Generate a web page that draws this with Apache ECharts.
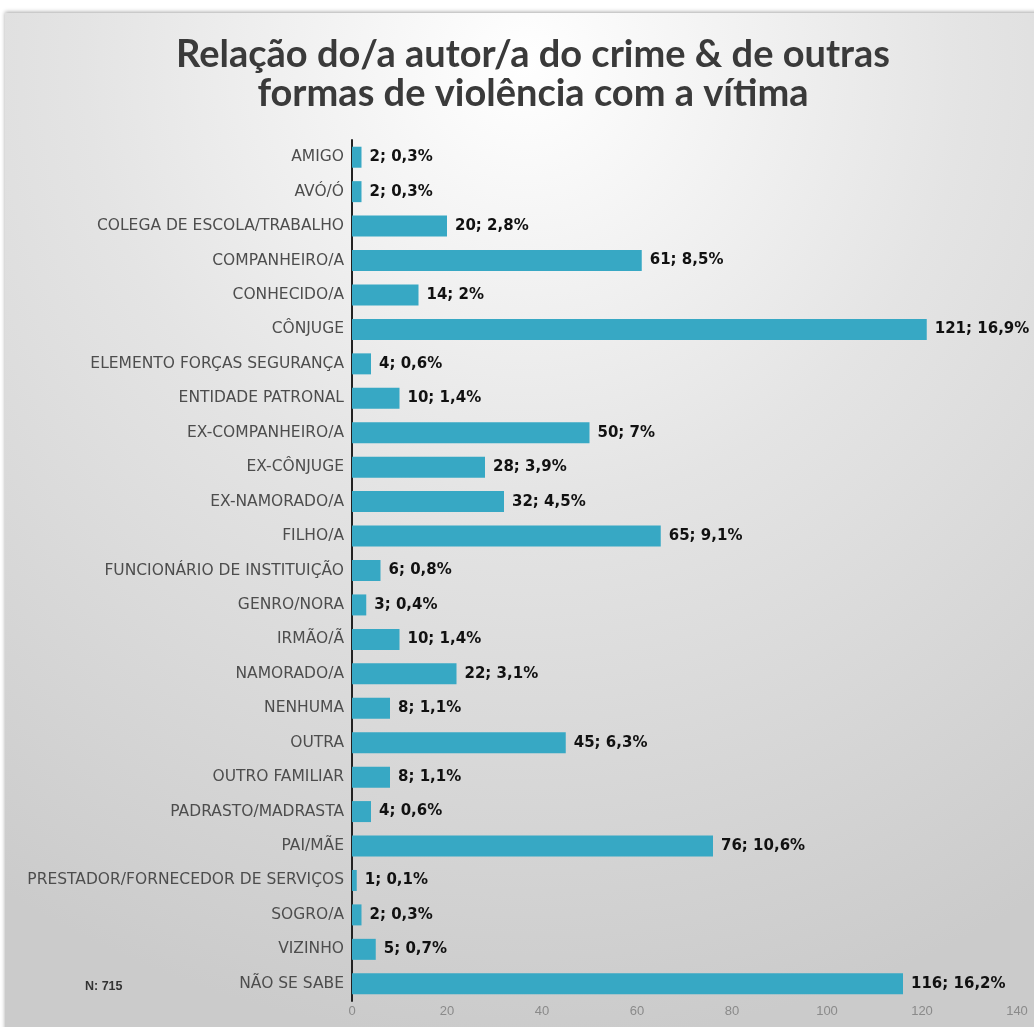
<!DOCTYPE html>
<html><head><meta charset="utf-8">
<script src="https://cdn.jsdelivr.net/npm/echarts@6/dist/echarts.min.js"></script>
<style>html,body{margin:0;padding:0;background:#fff;}#c{width:1034px;height:1027px;}</style>
</head><body><div id="c"></div>
<script>
const categories = ["AMIGO","AVÓ/Ó","COLEGA DE ESCOLA/TRABALHO","COMPANHEIRO/A","CONHECIDO/A","CÔNJUGE","ELEMENTO FORÇAS SEGURANÇA","ENTIDADE PATRONAL","EX-COMPANHEIRO/A","EX-CÔNJUGE","EX-NAMORADO/A","FILHO/A","FUNCIONÁRIO DE INSTITUIÇÃO","GENRO/NORA","IRMÃO/Ã","NAMORADO/A","NENHUMA","OUTRA","OUTRO FAMILIAR","PADRASTO/MADRASTA","PAI/MÃE","PRESTADOR/FORNECEDOR DE SERVIÇOS","SOGRO/A","VIZINHO","NÃO SE SABE"];
const counts = [2,2,20,61,14,121,4,10,50,28,32,65,6,3,10,22,8,45,8,4,76,1,2,5,116];
const percents = ["0,3","0,3","2,8","8,5","2","16,9","0,6","1,4","7","3,9","4,5","9,1","0,8","0,4","1,4","3,1","1,1","6,3","1,1","0,6","10,6","0,1","0,3","0,7","16,2"];
const xTicks = {min:0, max:140, interval:20};
const titleText = "Relação do/a autor/a do crime & de outras\nformas de violência com a vítima";
const noteText = "N: 715";

const chart = echarts.init(document.getElementById('c'));
chart.setOption({
  backgroundColor:'#ffffff',
  animation:false,
  graphic:[{
    type:'rect', z:-10, silent:true,
    shape:{x:5,y:13,width:1040,height:1030},
    style:{fill:new echarts.graphic.RadialGradient(0.5,0.05,0.95,[
      {offset:0,color:'#ffffff'},{offset:0.45,color:'#e4e4e4'},{offset:1,color:'#cbcbcb'}]),
      shadowColor:'rgba(0,0,0,0.35)',shadowBlur:4,shadowOffsetY:-1}
  },{
    type:'text', left:85, top:980, z:10,
    style:{text:noteText, fill:'#333', font:'bold 12.5px "Liberation Sans", sans-serif'}
  }],
  title:{
    text:titleText, left:528, textAlign:'center', top:30,
    textStyle:{fontFamily:'Lato', fontWeight:'bold', fontSize:38, color:'#3a3a3a', lineHeight:39}
  },
  grid:{left:352, right:17, top:140, bottom:26, containLabel:false},
  xAxis:{
    type:'value', min:xTicks.min, max:xTicks.max, interval:xTicks.interval,
    axisLine:{show:false}, axisTick:{show:false}, splitLine:{show:false},
    axisLabel:{color:'#8a8a8a', fontSize:13, fontFamily:'"Liberation Sans", sans-serif', margin:4}
  },
  yAxis:{
    type:'category', data:categories, inverse:true,
    axisLine:{show:true, lineStyle:{color:'#222', width:2}},
    axisTick:{show:false},
    axisLabel:{color:'#4d4d4d', fontSize:15.5, fontFamily:'"DejaVu Sans", sans-serif', margin:8}
  },
  series:[{
    type:'bar', data:counts, barWidth:21,
    itemStyle:{color:'#37a8c4'},
    label:{show:true, position:'right', distance:8, color:'#111', fontWeight:'bold', fontSize:15,
      fontFamily:'"DejaVu Sans", sans-serif',
      formatter:p=>counts[p.dataIndex]+'; '+percents[p.dataIndex]+'%'}
  }]
});
</script></body></html>
